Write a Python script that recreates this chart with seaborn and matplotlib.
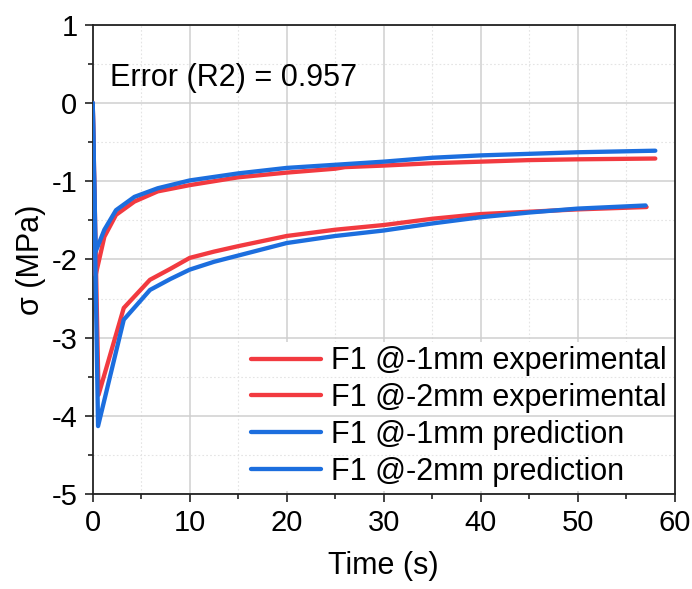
import numpy as np
import pandas as pd
import matplotlib.pyplot as plt
import seaborn as sns
from matplotlib.ticker import MultipleLocator

sns.set_style("ticks")
plt.rcParams['font.family'] = ['Liberation Sans', 'DejaVu Sans']
plt.rcParams['axes.unicode_minus'] = False
plt.rcParams['text.color'] = 'black'
plt.rcParams['axes.labelcolor'] = 'black'

t_exp_1 = [0, 0.3, 1.2, 2.4, 4.3, 6.7, 10, 15, 20, 25, 26, 30, 35, 40, 45, 50, 58]
s_exp_1 = [0, -2.2, -1.71, -1.43, -1.26, -1.13, -1.05, -0.95, -0.89, -0.84, -0.82,
           -0.80, -0.77, -0.75, -0.73, -0.72, -0.71]
t_exp_2 = [0, 0.6, 3.2, 5.9, 8, 10, 12.5, 15, 20, 25, 30, 35, 40, 45, 50, 57.1]
s_exp_2 = [0, -3.73, -2.62, -2.26, -2.12, -1.98, -1.90, -1.83, -1.70, -1.62, -1.56,
           -1.48, -1.42, -1.39, -1.36, -1.33]
t_pred_1 = [0, 0.3, 1.2, 2.4, 4.3, 6.7, 10, 15, 20, 25, 30, 35, 40, 45, 50, 58]
s_pred_1 = [0, -1.9, -1.62, -1.37, -1.2, -1.09, -0.99, -0.90, -0.83, -0.79, -0.75,
            -0.70, -0.67, -0.65, -0.63, -0.61]
t_pred_2 = [0, 0.55, 3.2, 5.9, 8, 10, 12.5, 15, 20, 25, 30, 35, 40, 45, 50, 57]
s_pred_2 = [0, -4.13, -2.77, -2.39, -2.25, -2.13, -2.03, -1.95, -1.79, -1.70, -1.63,
            -1.54, -1.46, -1.40, -1.35, -1.31]

labels = ['F1 @-1mm experimental', 'F1 @-2mm experimental',
          'F1 @-1mm prediction', 'F1 @-2mm prediction']
r2_text = 'Error (R2) = 0.957'

red = '#F23A40'
blue = '#1C6EDE'

frames = []
for lab, t, s in zip(labels, [t_exp_1, t_exp_2, t_pred_1, t_pred_2],
                     [s_exp_1, s_exp_2, s_pred_1, s_pred_2]):
    frames.append(pd.DataFrame({'Time': t, 'sigma': s, 'series': lab}))
df = pd.concat(frames, ignore_index=True)

fig = plt.figure(figsize=(6.92, 5.89), dpi=100)
ax = fig.add_axes([0.134, 0.161, 0.841, 0.797])

sns.lineplot(data=df, x='Time', y='sigma', hue='series', hue_order=labels,
             palette=[red, red, blue, blue], sort=False, estimator=None,
             linewidth=3.1, ax=ax, zorder=3)

ax.set_xlim(0, 60)
ax.set_ylim(-5, 1)
ax.xaxis.set_major_locator(MultipleLocator(10))
ax.xaxis.set_minor_locator(MultipleLocator(5))
ax.yaxis.set_major_locator(MultipleLocator(1))
ax.yaxis.set_minor_locator(MultipleLocator(0.5))

# vertical grid drawn by hand so the legend box can hide it, horizontal grid stays on top
for xv in np.arange(10, 60, 10):
    ax.axvline(xv, color='#cfcfcf', lw=1.1, zorder=0.3)
for xv in np.arange(5, 60, 10):
    ax.axvline(xv, color='#e4e4e4', lw=0.8, ls=(0, (1.5, 2)), zorder=0.3)
ax.set_axisbelow(True)
ax.yaxis.grid(True, which='major', color='#cfcfcf', lw=1.1)
ax.yaxis.grid(True, which='minor', color='#e4e4e4', lw=0.8, ls=(0, (1.5, 2)))

ax.tick_params(axis='both', which='major', direction='out', length=6, width=1.2,
               labelsize=21, color='#222222', labelcolor='black', pad=5)
ax.tick_params(axis='both', which='minor', direction='out', length=3.5, width=1.2,
               color='#222222')
for sp in ax.spines.values():
    sp.set_linewidth(1.3)
    sp.set_color('#222222')

ax.set_xlabel('Time (s)', fontsize=22, labelpad=10)
ax.set_ylabel('σ (MPa)', fontsize=22, labelpad=4)

ax.text(0.029, 0.887, r2_text, transform=ax.transAxes, fontsize=22, va='center')

leg = ax.legend(loc='lower right', fontsize=22, frameon=True, fancybox=False,
                handlelength=2.3, handletextpad=0.33, labelspacing=0.22,
                borderaxespad=0.1, borderpad=0.15)
leg.get_frame().set_facecolor('white')
leg.get_frame().set_edgecolor('none')
leg.get_frame().set_alpha(1)
leg.set_zorder(0.4)
for line in leg.get_lines():
    line.set_linewidth(3.1)

fig.savefig('out.png', dpi=100)
